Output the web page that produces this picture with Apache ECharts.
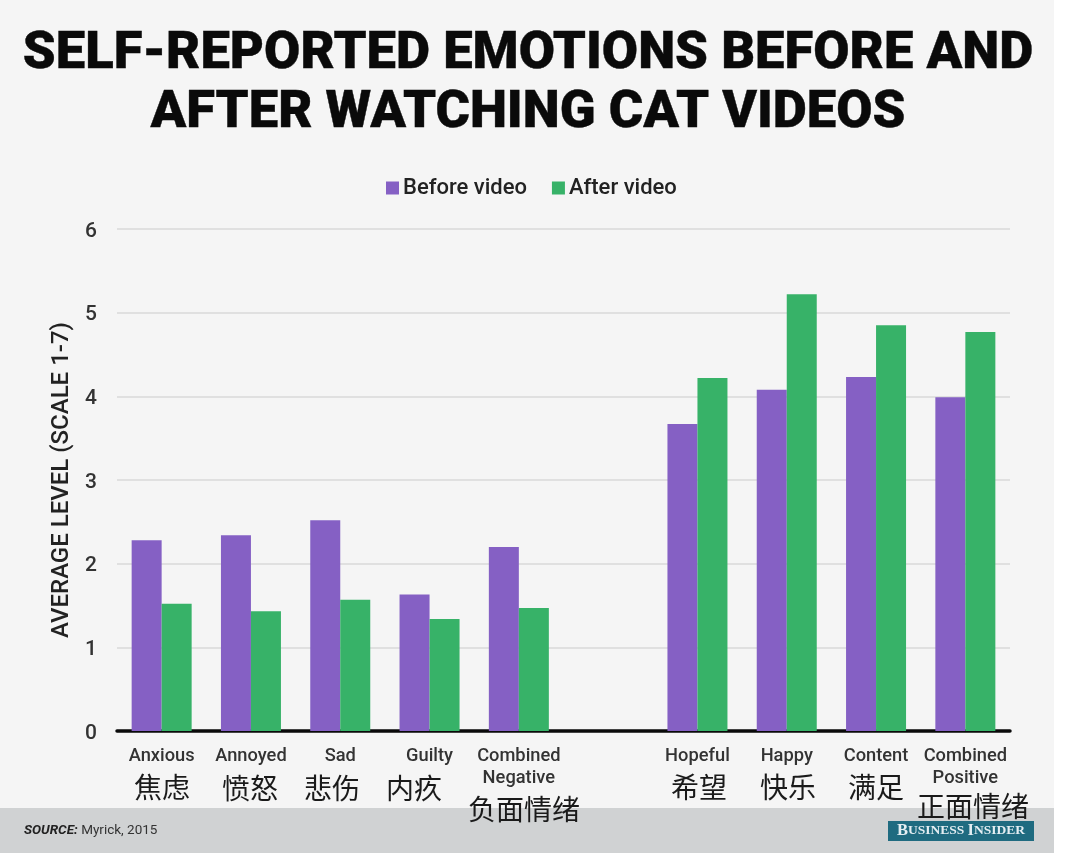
<!DOCTYPE html>
<html><head><meta charset="utf-8">
<style>html,body{margin:0;padding:0;background:#fff}#c{width:1080px;height:853px}</style>
<script src="https://cdn.jsdelivr.net/npm/echarts@6/dist/echarts.min.js"></script>
</head><body><div id="c"></div>
<script>
const categories=['Anxious','Annoyed','Sad','Guilty','Combined\nNegative','','Hopeful','Happy','Content','Combined\nPositive'];
const before=[2.28,2.34,2.52,1.63,2.2,null,3.67,4.08,4.23,3.99];
const after=[1.52,1.43,1.57,1.34,1.47,null,4.22,5.22,4.85,4.77];
const zhLabels=[['焦虑',162,787],['愤怒',250,788],['悲伤',332,788],['内疚',414,788],['负面情绪',524,809],['希望',699,787],['快乐',788,787],['满足',876,787],['正面情绪',973,806]];
const titleLines=['SELF-REPORTED EMOTIONS BEFORE AND','AFTER WATCHING CAT VIDEOS'];
const chart=echarts.init(document.getElementById('c'),null,{renderer:'canvas'});
const sans='Roboto, "Liberation Sans", sans-serif';
const zhFont='"Noto Sans CJK SC", sans-serif';
chart.setOption({
 animation:false,
 backgroundColor:'#fff',
 grid:{left:117,right:70,top:229,height:502,containLabel:false},
 legend:{top:172,left:381,itemWidth:13,itemHeight:13,itemGap:25,icon:'rect',
  textStyle:{fontFamily:sans,fontSize:22,fontWeight:500,color:'#222',padding:[0,0,0,-1]},
  data:['Before video','After video']},
 xAxis:{type:'category',data:categories,
  axisTick:{show:false},
  axisLine:{show:true,lineStyle:{color:'#0a0a0a',width:3.5}},
  axisLabel:{interval:0,margin:14,fontFamily:sans,fontSize:18.3,fontWeight:500,color:'#333',lineHeight:22}},
 yAxis:{type:'value',min:0,max:6,interval:1,
  name:'AVERAGE LEVEL (SCALE 1-7)',nameLocation:'middle',nameGap:34,nameRotate:90,
  nameTextStyle:{fontFamily:sans,fontSize:24,fontWeight:500,color:'#222'},
  axisLine:{show:false},axisTick:{show:false},
  axisLabel:{margin:20,fontFamily:sans,fontSize:21,fontWeight:500,color:'#333',formatter:'{a|{value}}',rich:{a:{fontFamily:sans,fontSize:21,fontWeight:500,color:'#333',padding:[5,0,0,0]}}},
  splitLine:{lineStyle:{color:'#d8d8d8',width:1.5}}},
 series:[
  {name:'Before video',type:'bar',data:before,barWidth:30,barGap:0,itemStyle:{color:'#8560c4'}},
  {name:'After video',type:'bar',data:after,barWidth:30,barGap:0,itemStyle:{color:'#37b268'}}
 ],
 graphic:{elements:[
  {type:'rect',silent:true,z:-10,shape:{x:0,y:0,width:1054,height:853},style:{fill:'#f5f5f5'}},
  {type:'rect',silent:true,z:-9,shape:{x:0,y:808,width:1054,height:45},style:{fill:'#d0d2d3'}},
  ...titleLines.map((t,i)=>({type:'text',silent:true,z:5,style:{text:t,x:528,y:i?114:55,align:'center',verticalAlign:'middle',fontFamily:sans,fontWeight:900,fontSize:52.6,fill:'#0a0a0a',stroke:'#0a0a0a',lineWidth:0.4}})),
  ...zhLabels.map(d=>({type:'text',silent:true,z:5,style:{text:d[0],x:d[1],y:d[2],align:'center',verticalAlign:'middle',fontFamily:zhFont,fontSize:28,fill:'#1a1a1a'}})),
  {type:'text',silent:true,z:5,style:{x:24,y:831,verticalAlign:'middle',text:'{a|SOURCE:} {b|Myrick, 2015}',rich:{a:{fontFamily:sans,fontWeight:700,fontStyle:'italic',fontSize:13.5,fill:'#222'},b:{fontFamily:sans,fontSize:13.5,fill:'#333'}}}},
  {type:'rect',silent:true,z:6,shape:{x:888,y:821,width:146,height:20},style:{fill:'#1f6b80'}},
  {type:'text',silent:true,z:7,style:{x:961,y:831,align:'center',verticalAlign:'middle',text:'{a|B}{b|USINESS} {a|I}{b|NSIDER}',rich:{a:{fontFamily:'"Liberation Serif",serif',fontWeight:700,fontSize:16.5,fill:'#e4eef2'},b:{fontFamily:'"Liberation Serif",serif',fontWeight:700,fontSize:13.5,fill:'#e4eef2'}}}}
 ]}
});
</script></body></html>
